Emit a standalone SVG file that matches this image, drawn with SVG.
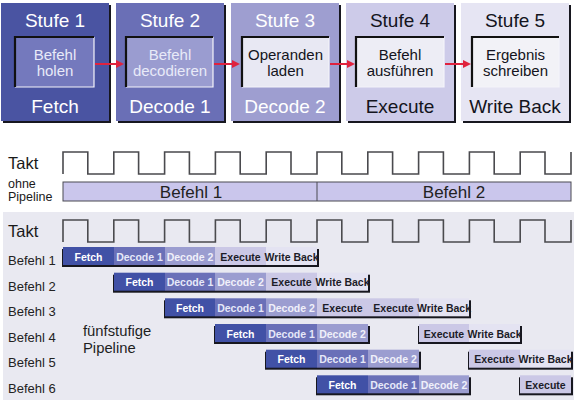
<svg xmlns="http://www.w3.org/2000/svg" width="579" height="410" viewBox="0 0 579 410">
<defs>
<marker id="arr" viewBox="0 0 8 8" refX="3" refY="4" markerWidth="8" markerHeight="8" markerUnits="userSpaceOnUse" orient="auto">
<path d="M0,0 L8,4 L0,8 z" fill="#e0223e"/>
</marker>
<style>
text{font-family:"Liberation Sans",Arial,sans-serif}
.sh{fill:#17171f}
.bx1{fill:#4a54a2}.bx2{fill:#6a6fb6}.bx3{fill:#9e9ed0}.bx4{fill:#cdcbe9}.bx5{fill:#e6e5f3}
.in1{fill:#7479bd}.in2{fill:#9a9cd0}.in3{fill:#e8e8f3}.in4{fill:#ededf5}.in5{fill:#f2f2f7}
.dk{fill:none;stroke:#111;stroke-width:2.2}
.lt{fill:none;stroke:#f4f4fa;stroke-width:1.2}
.ttl{font-size:19px;text-anchor:middle}
.inn{font-size:15px;text-anchor:middle}
.w{fill:#fff}.lw{fill:#e8eaf8}.k{fill:#141420}
.arrow{stroke:#e0223e;stroke-width:2;fill:none;marker-end:url(#arr)}
.clk{fill:none;stroke:#4a4a4e;stroke-width:1.6}
.lbl{font-size:13px;fill:#222}
.f{fill:#4151a6}.d1{fill:#6a70b8}.d2{fill:#9b9dd0}.ex{fill:#cbc8e6}.wb{fill:#e4e3f2}
.bt{font-size:10.5px;font-weight:bold;text-anchor:middle}
.tf{fill:#fff}.td1{fill:#e6e8f8}.td2{fill:#f0f0fa}.tk{fill:#1c1c28}
</style>
</defs>
<rect x="0" y="0" width="579" height="410" fill="#fff"/>

<!-- Stages -->
<g id="stufe1">
<rect class="sh" x="3" y="5" width="108" height="118"/>
<rect class="bx1" x="1" y="3" width="108" height="118"/>
<rect class="in1" x="15" y="37" width="79" height="50"/>
<path class="lt" d="M15,87 H94 V37"/><path class="dk" d="M15,87 V37 H94"/>
<text class="ttl w" x="55" y="27">Stufe 1</text>
<text class="inn lw" x="55" y="60">Befehl</text>
<text class="inn lw" x="55" y="76">holen</text>
<text class="ttl w" x="55" y="113">Fetch</text>
</g>
<g id="stufe2">
<rect class="sh" x="118" y="5" width="108" height="118"/>
<rect class="bx2" x="116" y="3" width="108" height="118"/>
<rect class="in2" x="126" y="37" width="87" height="50"/>
<path class="lt" d="M126,87 H213 V37"/><path class="dk" d="M126,87 V37 H213"/>
<text class="ttl w" x="170" y="27">Stufe 2</text>
<text class="inn lw" x="170" y="60">Befehl</text>
<text class="inn lw" x="170" y="76">decodieren</text>
<text class="ttl w" x="170" y="113">Decode 1</text>
</g>
<g id="stufe3">
<rect class="sh" x="233" y="5" width="108" height="118"/>
<rect class="bx3" x="231" y="3" width="108" height="118"/>
<rect class="in3" x="242" y="37" width="87" height="50"/>
<path class="lt" d="M242,87 H329 V37"/><path class="dk" d="M242,87 V37 H329"/>
<text class="ttl w" x="285" y="27">Stufe 3</text>
<text class="inn k" x="285.5" y="60">Operanden</text>
<text class="inn k" x="285.5" y="76">laden</text>
<text class="ttl w" x="285" y="113">Decode 2</text>
</g>
<g id="stufe4">
<rect class="sh" x="348" y="5" width="108" height="118"/>
<rect class="bx4" x="346" y="3" width="108" height="118"/>
<rect class="in4" x="356" y="37" width="88" height="50"/>
<path class="lt" d="M356,87 H444 V37"/><path class="dk" d="M356,87 V37 H444"/>
<text class="ttl k" x="400" y="27">Stufe 4</text>
<text class="inn k" x="400" y="60">Befehl</text>
<text class="inn k" x="400" y="76">ausführen</text>
<text class="ttl k" x="400" y="113">Execute</text>
</g>
<g id="stufe5">
<rect class="sh" x="463" y="5" width="108" height="118"/>
<rect class="bx5" x="461" y="3" width="108" height="118"/>
<rect class="in5" x="472" y="37" width="87" height="50"/>
<path class="lt" d="M472,87 H559 V37"/><path class="dk" d="M472,87 V37 H559"/>
<text class="ttl k" x="515" y="27">Stufe 5</text>
<text class="inn k" x="515.5" y="60">Ergebnis</text>
<text class="inn k" x="515.5" y="76">schreiben</text>
<text class="ttl k" x="515" y="113">Write Back</text>
</g>

<g id="connectors">
<line class="arrow" x1="95" y1="64" x2="119" y2="64"/>
<line class="arrow" x1="214" y1="64" x2="235" y2="64"/>
<line class="arrow" x1="330" y1="64" x2="350" y2="64"/>
<line class="arrow" x1="445" y1="64" x2="466" y2="64"/>
</g>

<!-- without pipeline -->
<g id="ohne-pipeline">
<text x="8" y="169" font-size="16.5" fill="#1a1a1a">Takt</text>
<path class="clk" d="M63,174 V152 H87.8 V174 H113.8 V152 H138.6 V174 H164.6 V152 H189.4 V174 H215.4 V152 H240.2 V174 H266.2 V152 H291 V174 H317 V152 H341.8 V174 H367.8 V152 H392.6 V174 H418.6 V152 H443.4 V174 H469.4 V152 H494.2 V174 H520.2 V152 H545 V174 H571 V152"/>
<text x="8" y="188" font-size="12.5" fill="#1a1a1a">ohne</text>
<text x="8" y="201" font-size="12.5" fill="#1a1a1a">Pipeline</text>
<rect x="63" y="182" width="508" height="19" fill="#cac6ec" stroke="#4a4a52" stroke-width="1"/>
<line x1="317" y1="182" x2="317" y2="201" stroke="#4a4a52" stroke-width="1"/>
<text x="191" y="197.5" font-size="17" fill="#222" text-anchor="middle">Befehl 1</text>
<text x="454" y="197.5" font-size="17" fill="#222" text-anchor="middle">Befehl 2</text>
</g>

<!-- pipeline panel -->
<rect x="3" y="212" width="571" height="188" fill="#e9e9f1"/>
<g id="takt2">
<text x="8" y="237" font-size="16.5" fill="#1a1a1a">Takt</text>
<path class="clk" d="M63,242 V220 H87.8 V242 H113.8 V220 H138.6 V242 H164.6 V220 H189.4 V242 H215.4 V220 H240.2 V242 H266.2 V220 H291 V242 H317 V220 H341.8 V242 H367.8 V220 H392.6 V242 H418.6 V220 H443.4 V242 H469.4 V220 H494.2 V242 H520.2 V220 H545 V242 H571 V220"/>
</g>

<g id="befehl1">
<text class="lbl" x="8" y="265">Befehl 1</text>
<rect class="sh" x="62" y="249" width="257" height="18"/>
<rect class="f" x="63" y="247" width="51" height="18"/><rect class="d1" x="114" y="247" width="51" height="18"/><rect class="d2" x="165" y="247" width="50" height="18"/><rect class="ex" x="215" y="247" width="51" height="18"/><rect class="wb" x="266" y="247" width="51" height="18"/>
<text class="bt tf" x="88.5" y="260.5">Fetch</text><text class="bt td1" x="139.5" y="260.5">Decode 1</text><text class="bt td2" x="190" y="260.5">Decode 2</text><text class="bt tk" x="240.5" y="260.5">Execute</text><text class="bt tk" x="291.5" y="260.5">Write Back</text>
</g>
<g id="befehl2">
<text class="lbl" x="8" y="290.5">Befehl 2</text>
<rect class="sh" x="113" y="274.7" width="257" height="18"/>
<rect class="f" x="114" y="272.7" width="51" height="18"/><rect class="d1" x="165" y="272.7" width="50" height="18"/><rect class="d2" x="215" y="272.7" width="51" height="18"/><rect class="ex" x="266" y="272.7" width="51" height="18"/><rect class="wb" x="317" y="272.7" width="51" height="18"/>
<text class="bt tf" x="139.5" y="286.2">Fetch</text><text class="bt td1" x="190" y="286.2">Decode 1</text><text class="bt td2" x="240.5" y="286.2">Decode 2</text><text class="bt tk" x="291.5" y="286.2">Execute</text><text class="bt tk" x="342.5" y="286.2">Write Back</text>
</g>
<g id="befehl3">
<text class="lbl" x="8" y="316">Befehl 3</text>
<rect class="sh" x="164" y="300.3" width="307" height="18"/>
<rect class="f" x="165" y="298.3" width="50" height="18"/><rect class="d1" x="215" y="298.3" width="51" height="18"/><rect class="d2" x="266" y="298.3" width="51" height="18"/><rect class="ex" x="317" y="298.3" width="51" height="18"/><rect class="ex" x="368" y="298.3" width="51" height="18"/><rect class="wb" x="419" y="298.3" width="50" height="18"/>
<text class="bt tf" x="190" y="311.8">Fetch</text><text class="bt td1" x="240.5" y="311.8">Decode 1</text><text class="bt td2" x="291.5" y="311.8">Decode 2</text><text class="bt tk" x="342.5" y="311.8">Execute</text><text class="bt tk" x="393.5" y="311.8">Execute</text><text class="bt tk" x="444" y="311.8">Write Back</text>
</g>
<g id="befehl4">
<text class="lbl" x="8" y="341.7">Befehl 4</text>
<rect class="sh" x="214" y="326" width="156" height="18"/>
<rect class="f" x="215" y="324" width="51" height="18"/><rect class="d1" x="266" y="324" width="51" height="18"/><rect class="d2" x="317" y="324" width="51" height="18"/>
<rect class="sh" x="418" y="326" width="104" height="18"/>
<rect class="ex" x="419" y="324" width="50" height="18"/><rect class="wb" x="469" y="324" width="51" height="18"/>
<text class="bt tf" x="240.5" y="337.5">Fetch</text><text class="bt td1" x="291.5" y="337.5">Decode 1</text><text class="bt td2" x="342.5" y="337.5">Decode 2</text><text class="bt tk" x="444" y="337.5">Execute</text><text class="bt tk" x="494.5" y="337.5">Write Back</text>
</g>
<g id="befehl5">
<text class="lbl" x="8" y="367.3">Befehl 5</text>
<rect class="sh" x="265" y="351.7" width="156" height="18"/>
<rect class="f" x="266" y="349.7" width="51" height="18"/><rect class="d1" x="317" y="349.7" width="51" height="18"/><rect class="d2" x="368" y="349.7" width="51" height="18"/>
<rect class="sh" x="468" y="351.7" width="105" height="18"/>
<rect class="ex" x="469" y="349.7" width="51" height="18"/><rect class="wb" x="520" y="349.7" width="51" height="18"/>
<text class="bt tf" x="291.5" y="363.2">Fetch</text><text class="bt td1" x="342.5" y="363.2">Decode 1</text><text class="bt td2" x="393.5" y="363.2">Decode 2</text><text class="bt tk" x="494.5" y="363.2">Execute</text><text class="bt tk" x="545.5" y="363.2">Write Back</text>
</g>
<g id="befehl6">
<text class="lbl" x="8" y="393">Befehl 6</text>
<rect class="sh" x="316" y="377.3" width="155" height="18"/>
<rect class="f" x="317" y="375.3" width="51" height="18"/><rect class="d1" x="368" y="375.3" width="51" height="18"/><rect class="d2" x="419" y="375.3" width="50" height="18"/>
<rect class="sh" x="519" y="377.3" width="54" height="18"/>
<rect class="ex" x="520" y="375.3" width="51" height="18"/>
<text class="bt tf" x="342.5" y="388.8">Fetch</text><text class="bt td1" x="393.5" y="388.8">Decode 1</text><text class="bt td2" x="444" y="388.8">Decode 2</text><text class="bt tk" x="545.5" y="388.8">Execute</text>
</g>

<g id="caption">
<text x="83" y="336" font-size="14.8" fill="#1e1e1e">fünfstufige</text>
<text x="83" y="353" font-size="14.8" fill="#1e1e1e">Pipeline</text>
</g>
</svg>
